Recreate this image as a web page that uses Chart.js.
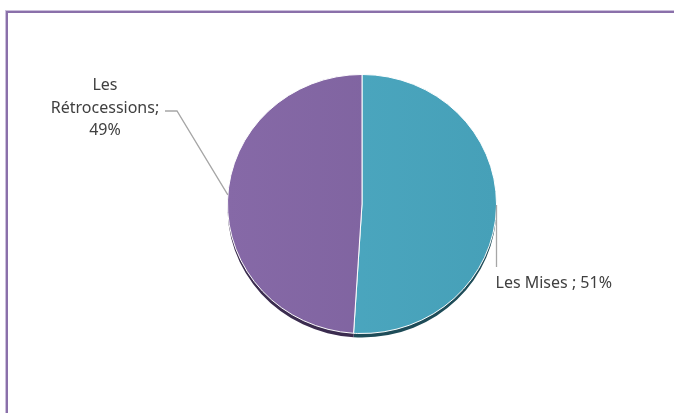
<!DOCTYPE html>
<html>
<head>
<meta charset="utf-8">
<script src="https://cdn.jsdelivr.net/npm/chart.js@4.4.0/dist/chart.umd.min.js"></script>
<style>
  html, body { margin: 0; padding: 0; background: #fff; }
  #wrap { position: relative; width: 674px; height: 413px; overflow: hidden; }
  #frame {
    position: absolute; left: 6px; top: 11px; width: 720px; height: 460px;
    border-top: 2px solid #8a70aa; border-left: 2px solid #8a70aa;
    box-shadow: -1px -1px 0 #cbbfdb;
  }
  canvas { position: absolute; left: 0; top: 0; }
</style>
</head>
<body>
<div id="wrap">
  <div id="frame"></div>
  <canvas id="pieChart" width="674" height="413"></canvas>
</div>
<script>
const categories = ['Les Mises', 'Les Rétrocessions'];
const shares = [51, 49];
const sliceLight = ['#4eaac3', '#8669a7'];
const sliceDark = ['#46a0b8', '#7b609b'];
const shadowColors = ['#1e4c58', '#3b2c4f'];

// Excel-style labels, one per slice
const labelLines = [
  [categories[0] + ' ; ' + shares[0] + '%'],
  ['Les', 'Rétrocessions;', shares[1] + '%']
];

const squash = 0.963; // slight 3D tilt of the pie

function sliceFill(context) {
  const area = context.chart.chartArea;
  if (!area) return sliceLight[context.dataIndex];
  const g = context.chart.ctx.createLinearGradient(area.left, 0, area.right, 0);
  g.addColorStop(0, sliceLight[context.dataIndex]);
  g.addColorStop(1, sliceDark[context.dataIndex]);
  return g;
}

const tiltPlugin = {
  id: 'tilt',
  beforeDatasetsDraw(chart) {
    const arcs = chart.getDatasetMeta(0).data;
    const ctx = chart.ctx;
    ctx.save();
    ctx.translate(arcs[0].x, arcs[0].y);
    ctx.scale(1, squash);
    ctx.translate(-arcs[0].x, -arcs[0].y);
    // drop shadow under each slice
    arcs.forEach((arc, i) => {
      const off = 4 / squash;
      ctx.beginPath();
      ctx.moveTo(arc.x, arc.y + off);
      ctx.arc(arc.x, arc.y + off, arc.outerRadius, arc.startAngle, arc.endAngle);
      ctx.closePath();
      ctx.fillStyle = shadowColors[i];
      ctx.fill();
    });
  },
  afterDatasetsDraw(chart) {
    chart.ctx.restore();
  }
};

const labelPlugin = {
  id: 'pieLabels',
  afterDraw(chart) {
    const ctx = chart.ctx;
    const arc = chart.getDatasetMeta(0).data[0];
    const cx = arc.x, cy = arc.y, r = arc.outerRadius;
    const ry = r * squash;

    ctx.save();
    ctx.font = '16px "Noto Sans", sans-serif';
    ctx.fillStyle = '#404040';
    ctx.strokeStyle = '#a6a6a6';
    ctx.lineWidth = 1.3;
    ctx.textBaseline = 'alphabetic';

    // Les Mises: vertical leader from right edge
    const mx = cx + r;
    ctx.beginPath();
    ctx.moveTo(mx, cy + 1);
    ctx.lineTo(mx, cy + 63);
    ctx.stroke();
    ctx.textAlign = 'left';
    ctx.fillText(labelLines[0][0], mx - 1, cy + 84);

    // Les Rétrocessions: elbow leader from left edge
    const a = Math.PI + 0.07;
    const px = cx + r * Math.cos(a), py = cy + ry * Math.sin(a);
    ctx.beginPath();
    ctx.moveTo(px, py);
    ctx.lineTo(cx - 185, cy - 93);
    ctx.lineTo(cx - 197, cy - 93);
    ctx.stroke();
    ctx.textAlign = 'center';
    const tx = cx - 257;
    labelLines[1].forEach((t, i) => ctx.fillText(t, tx, cy - 114 + i * 22.5));
    ctx.restore();
  }
};

new Chart(document.getElementById('pieChart'), {
  type: 'pie',
  data: {
    labels: categories,
    datasets: [{
      data: shares,
      backgroundColor: sliceFill,
      borderColor: '#ffffff',
      borderWidth: 1
    }]
  },
  options: {
    responsive: false,
    animation: false,
    layout: { padding: { left: 227, right: 177, top: 69, bottom: 74 } },
    plugins: {
      legend: { display: false },
      tooltip: { enabled: false }
    }
  },
  plugins: [tiltPlugin, labelPlugin]
});
</script>
</body>
</html>
